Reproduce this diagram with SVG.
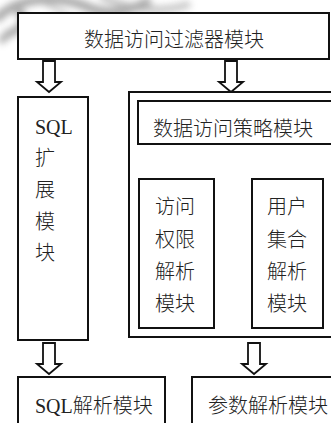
<svg xmlns="http://www.w3.org/2000/svg" width="331" height="423" viewBox="0 0 331 423">
<style>
.box{fill:#fff;stroke:#111;stroke-width:2}
.arr{fill:#fff;stroke:#111;stroke-width:1.8;stroke-linejoin:miter}
.t{font-family:"Liberation Serif","Noto Sans CJK SC",serif;font-size:20px;fill:#222;dominant-baseline:central;font-weight:300}
.c{text-anchor:middle}
</style>
<defs>
<filter id="blur" x="-20%" y="-50%" width="140%" height="200%"><feGaussianBlur stdDeviation="3.5"/></filter>
<path id="arrow" d="M-6,0 H6 V21 H12 L0,31 L-12,21 H-6 Z"/>
</defs>
<rect width="331" height="423" fill="#fff"/>
<g id="watermark" filter="url(#blur)" fill="none" stroke="#888" opacity="0.7">
<path d="M-5,20 C20,-5 60,-5 90,8 C110,16 130,12 150,0" stroke-width="9"/>
<path d="M0,42 C15,25 35,20 60,30" stroke-width="7"/>
<path d="M100,-4 C130,10 160,14 190,4" stroke-width="7" opacity="0.7"/>
<path d="M10,5 C30,15 25,30 5,35" stroke-width="8"/>
<path d="M40,0 C55,10 70,12 80,30" stroke-width="5" opacity="0.6"/>
</g>
<g id="connectors">
<use href="#arrow" class="arr" transform="translate(49,61)"/>
<use href="#arrow" class="arr" transform="translate(231,61)"/>
<use href="#arrow" class="arr" transform="translate(177,146)"/>
<use href="#arrow" class="arr" transform="translate(287,146)"/>
<use href="#arrow" class="arr" transform="translate(49,343)"/>
<use href="#arrow" class="arr" transform="translate(254,343)"/>
</g>
<g id="filter-module">
<rect class="box" x="18" y="13" width="311" height="46"/>
<text class="t c" x="174" y="40">数据访问过滤器模块</text>
</g>
<g id="sql-ext">
<rect class="box" x="18" y="97" width="70" height="243"/>
<text class="t" x="35" y="127">SQL</text>
<text class="t" x="35" y="158">扩</text>
<text class="t" x="35" y="190">展</text>
<text class="t" x="35" y="222">模</text>
<text class="t" x="35" y="253">块</text>
</g>
<g id="strategy-container">
<rect class="box" x="129" y="92" width="215" height="245"/>
</g>
<g id="strategy-module">
<rect class="box" x="138" y="101" width="206" height="43"/>
<text class="t c" x="233" y="129">数据访问策略模块</text>
</g>
<g id="access-module">
<rect class="box" x="139" y="179" width="75" height="149"/>
<text class="t c" x="175" y="207">访问</text>
<text class="t c" x="175" y="240">权限</text>
<text class="t c" x="175" y="272">解析</text>
<text class="t c" x="175" y="304">模块</text>
</g>
<g id="user-module">
<rect class="box" x="252" y="179" width="71" height="149"/>
<text class="t c" x="287" y="207">用户</text>
<text class="t c" x="287" y="240">集合</text>
<text class="t c" x="287" y="272">解析</text>
<text class="t c" x="287" y="304">模块</text>
</g>
<g id="sql-parse">
<rect class="box" x="18" y="377" width="147" height="60"/>
<text class="t" x="35" y="406">SQL解析模块</text>
</g>
<g id="param-parse">
<rect class="box" x="192" y="377" width="150" height="60"/>
<text class="t" x="208" y="406">参数解析模块</text>
</g>
</svg>
